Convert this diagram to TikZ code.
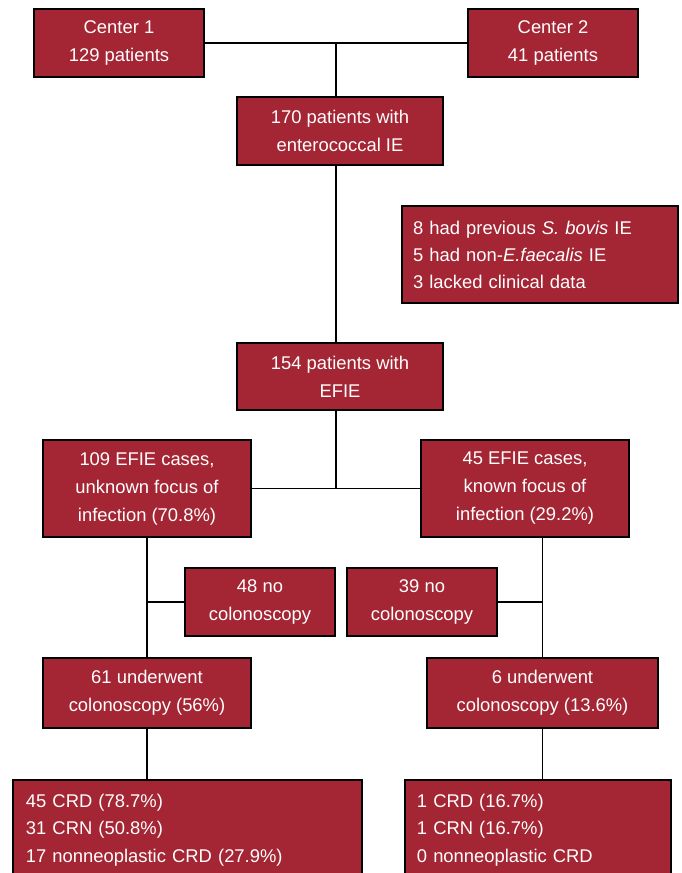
\documentclass[tikz,border=0pt]{standalone}
\usepackage{fontspec}
\setmainfont{Liberation Sans}
\definecolor{boxred}{RGB}{164,37,51}
\begin{document}
\begin{tikzpicture}[x=1pt,y=-1pt,
  box/.style={draw=black, line width=1.8pt, fill=boxred, text=white, inner sep=0pt,
    font=\fontsize{18.4}{28}\selectfont, align=center},
  lbox/.style={draw=black, line width=1.8pt, fill=boxred, text=white, inner ysep=14pt, inner xsep=0pt,
    font=\fontsize{18.4}{27.5}\selectfont, align=left, anchor=north west},
  thick line/.style={line width=1.7pt},
  thin line/.style={line width=1.3pt}]
\clip (0,0) rectangle (682,873);
\fill[white] (0,0) rectangle (682,873);

\node[box, minimum width=170pt, minimum height=68pt] (c1) at (119,43) {Center 1\\129 patients};
\node[box, minimum width=170pt, minimum height=68pt] (c2) at (553,43) {Center 2\\41 patients};
\node[box, minimum width=206pt, minimum height=68pt] (n170) at (340,131) {170 patients with\\enterococcal IE};
\node[box, minimum width=276pt, minimum height=97pt, align=left, text width=254pt, inner xsep=11pt,
  font=\fontsize{18.4}{27}\selectfont] (excl) at (540,254.5)
  {8 had previous \textit{S. bovis} IE\\5 had non-\textit{E.faecalis} IE\\3 lacked clinical data};
\node[box, minimum width=206pt, minimum height=67pt] (n154) at (340,376.5) {154 patients with\\EFIE};
\node[box, minimum width=208pt, minimum height=97pt] (n109) at (147,488.5) {109 EFIE cases,\\unknown focus of\\infection (70.8\%)};
\node[box, minimum width=208pt, minimum height=97pt] (n45) at (525,488.5) {45 EFIE cases,\\known focus of\\infection (29.2\%)};
\node[box, minimum width=150pt, minimum height=68pt] (no48) at (260,602) {48 no\\colonoscopy};
\node[box, minimum width=150pt, minimum height=68pt] (no39) at (422,602) {39 no\\colonoscopy};
\node[box, minimum width=208pt, minimum height=70pt] (u61) at (147,693) {61 underwent\\colonoscopy (56\%)};
\node[box, minimum width=231pt, minimum height=70pt] (u6) at (542.5,693) {6 underwent\\colonoscopy (13.6\%)};
\node[lbox, text width=323pt, inner xsep=13pt] (bl) at (12,779)
  {45 CRD (78.7\%)\\31 CRN (50.8\%)\\17 nonneoplastic CRD (27.9\%)\\[4pt]};
\node[lbox, text width=242pt, inner xsep=12pt] (br) at (404,779)
  {1 CRD (16.7\%)\\1 CRN (16.7\%)\\0 nonneoplastic CRD\\[4pt]};

\coordinate (j1) at (336,43);
\coordinate (j2) at (336,488.5);
\draw[thick line] (c1.east) -- (c2.west);
\draw[thick line] (j1) -- (j1 |- n170.north);
\draw[thin line] (j1 |- n170.south) -- (j1 |- n154.north);
\draw[thin line] (j1 |- n154.south) -- (j2);
\draw[thin line] (n109.east) -- (n45.west);
\draw[thin line] (n109.south) -- (u61.north);
\draw[thin line] (n109.south |- no48.west) -- (no48.west);
\draw[thin line] (u6.north |- n45.south) -- (u6.north);
\draw[thin line] (no39.east) -- (u6.north |- no39.east);
\draw[thin line] (u61.south) -- (u61.south |- bl.north);
\draw[thin line] (u6.south) -- (u6.south |- br.north);
\end{tikzpicture}
\end{document}
